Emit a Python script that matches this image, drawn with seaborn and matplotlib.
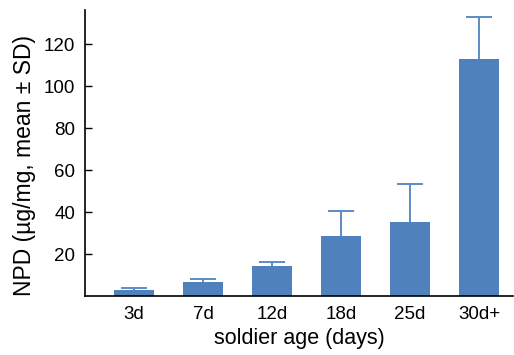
import matplotlib
matplotlib.use("Agg")
import matplotlib.pyplot as plt
import seaborn as sns
import pandas as pd

# ── Data ─────────────────────────────────────────────────────────────────────
ages  = ["3d", "7d", "12d", "18d", "25d", "30d+"]
means = [2.9, 6.7, 14.4, 28.6, 35.2, 112.9]
sds   = [0.7, 1.5, 1.6, 12.0, 18.1, 20.1]
yticks = [20, 40, 60, 80, 100, 120]

BAR_COL = "#4f81bd"
ERR_COL = "#5b8bc7"

sns.set_style("white")
plt.rcParams["font.family"] = ["Liberation Sans", "DejaVu Sans"]

df = pd.DataFrame({"age": ages, "npd": means})

fig = plt.figure(figsize=(5.14, 3.55), dpi=100)
ax = fig.add_axes([0.1654, 0.1662, 0.8326, 0.8056])

sns.barplot(data=df, x="age", y="npd", color=BAR_COL, saturation=1,
            width=0.57, errorbar=None, linewidth=0, ax=ax, zorder=2)

# upper half of the SD bar only
_, caps, _ = ax.errorbar(range(len(ages)), means, yerr=[[0] * len(sds), sds],
                         fmt="none", ecolor=ERR_COL, elinewidth=1.4,
                         capsize=9.7, capthick=1.4, zorder=1)
caps[0].set_visible(False)

ax.set_xlim(-0.71, 5.49)
ax.set_ylim(0, 136.2)
ax.set_yticks(yticks)
ax.tick_params(axis="y", direction="in", length=5, width=1, labelsize=13.5,
               colors="black", left=True, pad=7)
ax.tick_params(axis="x", length=0, labelsize=13.5, colors="black", pad=7)

for side in ["top", "right"]:
    ax.spines[side].set_visible(False)
for side in ["left", "bottom"]:
    ax.spines[side].set_color("black")
    ax.spines[side].set_linewidth(1.2)

ax.set_xlabel("soldier age (days)", fontsize=15.5, labelpad=4, color="black")
ax.set_ylabel("NPD (µg/mg, mean ± SD)", fontsize=16.5, labelpad=6,
              color="black")
ax.yaxis.set_label_coords(-0.115, 0.455)

fig.savefig("out.png", dpi=100)
